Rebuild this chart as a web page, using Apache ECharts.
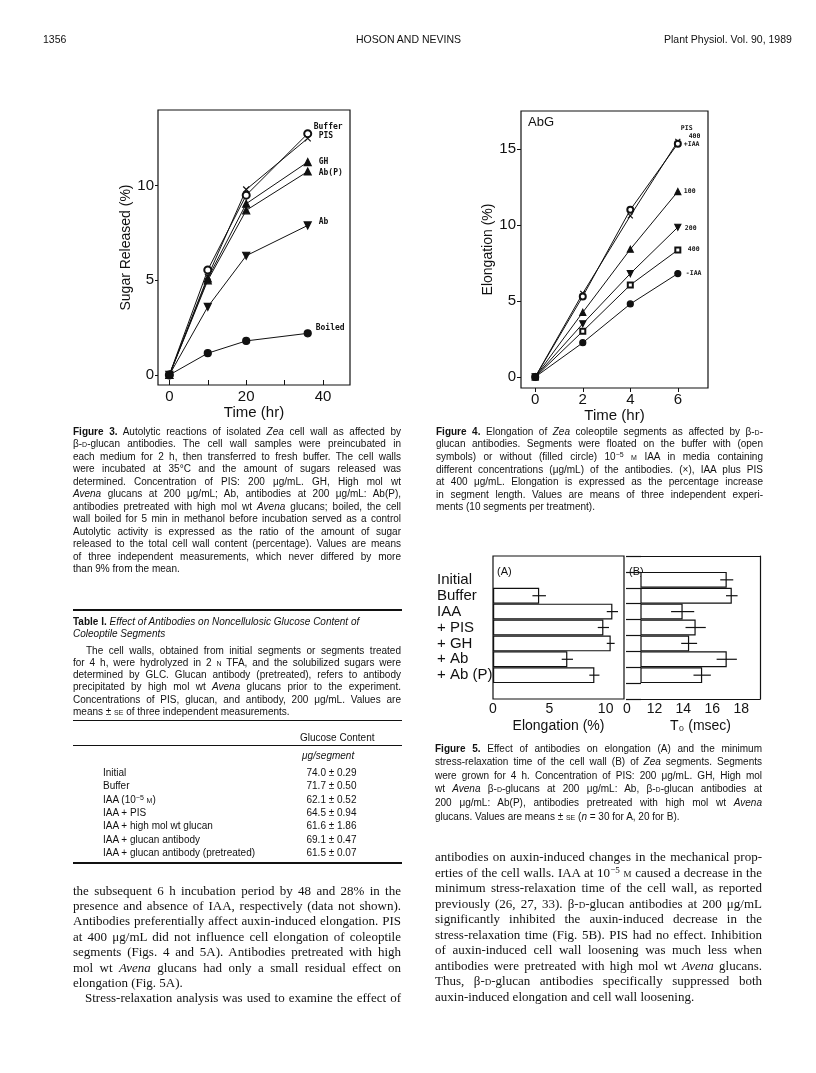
<!DOCTYPE html>
<html>
<head>
<meta charset="utf-8">
<script src="https://cdn.jsdelivr.net/npm/echarts@6.0.0/dist/echarts.min.js"></script>
<style>
  html, body { margin: 0; padding: 0; background: #fff; }
  body { width: 816px; height: 1073px; position: relative; overflow: hidden; }
  #main { position: absolute; left: 0; top: 0; width: 816px; height: 1073px; }
  .ln { position: absolute; white-space: nowrap; color: #111; z-index: 2; }
  .cap { font-family: "Liberation Sans", Arial, sans-serif; font-size: 10px; }
  .body { font-family: "Liberation Serif", "Times New Roman", serif; font-size: 13px; }
  .hd { position: absolute; font-family: "Liberation Sans", Arial, sans-serif; font-size: 10.5px; color: #111; z-index: 2; }
  .rule { position: absolute; left: 73px; width: 329px; background: #111; z-index: 2; }
  .sc { font-variant: small-caps; }
  sup { font-size: 0.7em; vertical-align: 0.45em; line-height: 0; }
</style>
</head>
<body>
<div id="main"></div>
<div class="hd" style="left:43px;top:33px;">1356</div>
<div class="hd" style="left:356px;top:33px;">HOSON AND NEVINS</div>
<div class="hd" style="left:664px;top:33px;">Plant Physiol. Vol. 90, 1989</div>
<div class="rule" style="top:609px;height:2px;"></div>
<div class="rule" style="top:719.5px;height:1px;"></div>
<div class="rule" style="top:744.5px;height:1.5px;"></div>
<div class="rule" style="top:862px;height:1.5px;"></div>
<script>
// Figure 3: sugar released (%) vs time (hr)
var fig3Time = [0, 10, 20, 36];
var fig3Buffer = [0, 5.55, 9.5, 12.75];
var fig3PIS = [0, 5.2, 9.8, 12.5];
var fig3GH = [0, 5.1, 9.05, 11.25];
var fig3AbP = [0, 5.0, 8.7, 10.75];
var fig3Ab = [0, 3.6, 6.3, 7.9];
var fig3Boiled = [0, 1.15, 1.8, 2.2];

// Figure 4: elongation (%) vs time (hr)
var fig4Time = [0, 2, 4, 6];
var fig4PIS = [0, 5.5, 10.6, 15.5];
var fig4IAA = [0, 5.3, 11.0, 15.35];
var fig4Ab100 = [0, 4.25, 8.4, 12.2];
var fig4Ab200 = [0, 3.5, 6.8, 9.85];
var fig4Ab400 = [0, 3.0, 6.05, 8.35];
var fig4NoIAA = [0, 2.25, 4.8, 6.8];

// Figure 5: treatments, elongation (A) and T0 (B), means and SE
var fig5Groups = ['Initial', 'Buffer', 'IAA', '+ PIS', '+ GH', '+ Ab', '+ Ab (P)'];
var fig5ElongMean = [null, 4.1, 10.6, 9.8, 10.45, 6.6, 9.0];
var fig5ElongSE = [null, 0.6, 0.5, 0.5, 0.35, 0.5, 0.45];
var fig5T0Mean = [17.0, 17.35, 13.95, 14.85, 14.4, 17.0, 15.3];
var fig5T0SE = [0.45, 0.4, 0.8, 0.7, 0.55, 0.7, 0.6];

var fig3Ticks = [0, 10, 20, 30, 40];
var fig3Labels = [0, 20, 40];
var fig3YLabels = [0, 5, 10];
var fig4XLabels = [0, 2, 4, 6];
var fig4YLabels = [0, 5, 10, 15];
var fig5ALabels = [0, 5, 10];
var fig5BLabels = [12, 14, 16, 18];

// padded category list: empty slot on top and bottom
var fig5Cats = [' '].concat(fig5Groups, ['  ']);
function pad(arr) { return ['-'].concat(arr.map(function (v) { return v == null ? '-' : v; }), ['-']); }
function errData(mean, se) {
  var out = [];
  mean.forEach(function (m, i) {
    if (m != null) out.push([m - se[i], m + se[i], i + 1]);
  });
  return out;
}
function zip(xs, ys) { return xs.map(function (x, i) { return [x, ys[i]]; }); }

var FONT = 'Liberation Sans';
var xMark = 'path://M0,0L10,10M10,0L0,10';

function lineSeries(ax, name, xs, ys, symbol, size, rotate, label, off, lblSize) {
  return {
    type: 'line', name: name, xAxisIndex: ax, yAxisIndex: ax,
    data: zip(xs, ys),
    symbol: symbol, symbolSize: size, symbolRotate: rotate || 0,
    lineStyle: { color: '#111', width: 1 },
    itemStyle: { color: '#111', borderColor: '#111', borderWidth: 1.2 },
    endLabel: {
      show: true, formatter: label, distance: 0, offset: off,
      fontFamily: 'DejaVu Sans Mono', fontWeight: 'bold', fontSize: lblSize, color: '#111',
      lineHeight: lblSize + 1
    },
    z: 3
  };
}

function errRender(params, api) {
  var lo = api.coord([api.value(0), api.value(2)]);
  var hi = api.coord([api.value(1), api.value(2)]);
  return {
    type: 'line',
    shape: { x1: lo[0], y1: lo[1], x2: hi[0], y2: hi[1] },
    style: { stroke: '#111', lineWidth: 1.2 }
  };
}

var axisTxt = { color: '#111', fontFamily: FONT };

var option = {
  animation: false,
  backgroundColor: '#fff',
  textStyle: { fontFamily: FONT, color: '#111' },
  grid: [
    { left: 158, top: 110, width: 192, height: 275, show: true, borderColor: '#111', borderWidth: 1.2, outerBoundsMode: 'none' },
    { left: 521, top: 111, width: 187, height: 277, show: true, borderColor: '#111', borderWidth: 1.2, outerBoundsMode: 'none' },
    { left: 493, top: 556, width: 131, height: 143, show: true, borderColor: '#111', borderWidth: 1.2, outerBoundsMode: 'none' },
    { left: 641, top: 556, width: 119, height: 143, show: false, outerBoundsMode: 'none' }
  ],
  xAxis: [
    {
      gridIndex: 0, type: 'value', min: -2.95, max: 47,
      axisLine: { show: false, onZero: false },
      axisTick: { inside: true, length: 5, customValues: fig3Ticks, lineStyle: { color: '#111' } },
      axisLabel: Object.assign({ customValues: fig3Labels, fontSize: 15, margin: 4 }, axisTxt),
      splitLine: { show: false },
      name: 'Time (hr)', nameLocation: 'middle', nameGap: 19,
      nameTextStyle: Object.assign({ fontSize: 15 }, axisTxt)
    },
    {
      gridIndex: 1, type: 'value', min: -0.6, max: 7.27,
      axisLine: { show: false, onZero: false },
      axisTick: { length: 4, customValues: fig4XLabels, lineStyle: { color: '#111' } },
      axisLabel: Object.assign({ customValues: fig4XLabels, fontSize: 15, margin: 4 }, axisTxt),
      splitLine: { show: false },
      name: 'Time (hr)', nameLocation: 'middle', nameGap: 17,
      nameTextStyle: Object.assign({ fontSize: 15 }, axisTxt)
    },
    {
      gridIndex: 2, type: 'value', min: 0, max: 11.63,
      axisLine: { show: false, onZero: false },
      axisTick: { show: false },
      axisLabel: Object.assign({ customValues: fig5ALabels, fontSize: 14, margin: 3 }, axisTxt),
      splitLine: { show: false },
      name: 'Elongation (%)', nameLocation: 'middle', nameGap: 20,
      nameTextStyle: Object.assign({ fontSize: 14 }, axisTxt)
    },
    {
      gridIndex: 3, type: 'value', min: 11.07, max: 19.3,
      axisLine: { show: true, onZero: false, lineStyle: { color: '#111', width: 1.2 } },
      axisTick: { inside: true, length: 5, customValues: fig5BLabels, lineStyle: { color: '#111' } },
      axisLabel: Object.assign({ customValues: fig5BLabels, fontSize: 14, margin: 3 }, axisTxt),
      splitLine: { show: false },
      name: 'T\u2080 (msec)', nameLocation: 'middle', nameGap: 20,
      nameTextStyle: Object.assign({ fontSize: 14 }, axisTxt)
    },
    {
      gridIndex: 3, type: 'value', position: 'top', min: 11.07, max: 19.3,
      axisLine: { show: true, onZero: false, lineStyle: { color: '#111', width: 1.2 } },
      axisTick: { show: false }, axisLabel: { show: false }, splitLine: { show: false }
    }
  ],
  yAxis: [
    {
      gridIndex: 0, type: 'value', min: -0.53, max: 14.0,
      axisLine: { show: false, onZero: false },
      axisTick: { length: 3, customValues: fig3YLabels, lineStyle: { color: '#111' } },
      axisLabel: Object.assign({ customValues: fig3YLabels, fontSize: 15, margin: 4 }, axisTxt),
      splitLine: { show: false },
      name: 'Sugar Released (%)', nameLocation: 'middle', nameGap: 21,
      nameTextStyle: Object.assign({ fontSize: 14 }, axisTxt)
    },
    {
      gridIndex: 1, type: 'value', min: -0.73, max: 17.5,
      axisLine: { show: false, onZero: false },
      axisTick: { length: 4, customValues: fig4YLabels, lineStyle: { color: '#111' } },
      axisLabel: Object.assign({ customValues: fig4YLabels, fontSize: 15, margin: 5 }, axisTxt),
      splitLine: { show: false },
      name: 'Elongation (%)', nameLocation: 'middle', nameGap: 18,
      nameTextStyle: Object.assign({ fontSize: 14 }, axisTxt)
    },
    {
      gridIndex: 2, type: 'category', data: fig5Cats, inverse: true,
      axisLine: { show: false, onZero: false },
      axisTick: { show: false },
      axisLabel: Object.assign({ fontSize: 15, margin: 56, align: 'left', interval: 0 }, axisTxt)
    },
    {
      gridIndex: 3, type: 'category', data: fig5Cats, inverse: true,
      axisLine: { show: false, onZero: false },
      axisTick: { show: true, length: 15, interval: 0, lineStyle: { color: '#111', width: 1.2 } },
      axisLabel: { show: false }
    },
    {
      gridIndex: 3, type: 'category', data: fig5Cats, inverse: true, position: 'right',
      axisLine: { show: true, onZero: false, lineStyle: { color: '#111', width: 1.2 } },
      axisTick: { show: false }, axisLabel: { show: false }
    }
  ],
  series: [
    lineSeries(0, 'Buffer', fig3Time, fig3Buffer, 'emptyCircle', 7, 0, 'Buffer', [6, -7], 8),
    lineSeries(0, 'PIS', fig3Time, fig3PIS, xMark, 6, 0, 'PIS', [11, -2], 8),
    lineSeries(0, 'GH', fig3Time, fig3GH, 'triangle', 7, 0, 'GH', [11, 0], 8),
    lineSeries(0, 'Ab(P)', fig3Time, fig3AbP, 'triangle', 7, 0, 'Ab(P)', [11, 1], 8),
    lineSeries(0, 'Ab', fig3Time, fig3Ab, 'triangle', 7, 180, 'Ab', [11, -4], 8),
    lineSeries(0, 'Boiled', fig3Time, fig3Boiled, 'circle', 7, 0, 'Boiled', [8, -5], 8),

    lineSeries(1, 'PIS 400', fig4Time, fig4PIS, xMark, 5, 0, 'PIS\n  400', [3, -9], 6.5),
    lineSeries(1, '+IAA', fig4Time, fig4IAA, 'emptyCircle', 6, 0, '+IAA', [6, 1], 6.5),
    lineSeries(1, '100', fig4Time, fig4Ab100, 'triangle', 6, 0, '100', [6, 0], 6.5),
    lineSeries(1, '200', fig4Time, fig4Ab200, 'triangle', 6, 180, '200', [7, 1], 6.5),
    lineSeries(1, '400', fig4Time, fig4Ab400, 'emptyRect', 5, 0, '400', [10, -1], 6.5),
    lineSeries(1, '-IAA', fig4Time, fig4NoIAA, 'circle', 6, 0, '-IAA', [8, 0], 6.5),

    {
      type: 'bar', xAxisIndex: 2, yAxisIndex: 2, data: pad(fig5ElongMean),
      barCategoryGap: '0%',
      itemStyle: { color: '#fff', borderColor: '#111', borderWidth: 1.2 }
    },
    {
      type: 'custom', xAxisIndex: 2, yAxisIndex: 2, renderItem: errRender,
      data: errData(fig5ElongMean, fig5ElongSE), encode: { x: [0, 1], y: 2 }, z: 5
    },
    {
      type: 'bar', xAxisIndex: 3, yAxisIndex: 3, data: pad(fig5T0Mean),
      barCategoryGap: '0%',
      itemStyle: { color: '#fff', borderColor: '#111', borderWidth: 1.2 }
    },
    {
      type: 'custom', xAxisIndex: 3, yAxisIndex: 3, renderItem: errRender,
      data: errData(fig5T0Mean, fig5T0SE), encode: { x: [0, 1], y: 2 }, z: 5
    }
  ],
  graphic: [
    { type: 'text', x: 528, y: 116, style: { text: 'AbG', font: '13px "Liberation Sans"', fill: '#111' } },
    { type: 'text', x: 497, y: 566, style: { text: '(A)', font: '11px "Liberation Sans"', fill: '#111' } },
    { type: 'text', x: 629, y: 566, style: { text: '(B)', font: '11px "Liberation Sans"', fill: '#111' } },
    { type: 'text', x: 627, y: 702, style: { text: '0', font: '14px "Liberation Sans"', fill: '#111', align: 'center' } }
  ]
};

var chart = echarts.init(document.getElementById('main'));
chart.setOption(option);

// ---- page text ----
var bD = '\u03b2-<span class="sc">d</span>';
var ug = '\u03bcg/mL';
var blocks = [
  { cls: 'cap', x: 73, w: 328, y: 431.7, dy: 12.5, lh: 12, lines: [
    '<b>Figure 3.</b> Autolytic reactions of isolated <i>Zea</i> cell wall as affected by',
    bD + '-glucan antibodies. The cell wall samples were preincubated in',
    'each medium for 2 h, then transferred to fresh buffer. The cell walls',
    'were incubated at 35\u00b0C and the amount of sugars released was',
    'determined. Concentration of PIS: 200 ' + ug + '. GH, High mol wt',
    '<i>Avena</i> glucans at 200 ' + ug + '; Ab, antibodies at 200 ' + ug + ': Ab(P),',
    'antibodies pretreated with high mol wt <i>Avena</i> glucans; boiled, the cell',
    'wall boiled for 5 min in methanol before incubation served as a control',
    'Autolytic activity is expressed as the ratio of the amount of sugar',
    'released to the total cell wall content (percentage). Values are means',
    'of three independent measurements, which never differed by more',
    '~than 9% from the mean.'
  ] },
  { cls: 'cap', x: 73, w: 328, y: 621.7, dy: 12.3, lh: 12, lines: [
    '~<b>Table I.</b> <i>Effect of Antibodies on Noncellulosic Glucose Content of</i>',
    '~<i>Coleoptile Segments</i>'
  ] },
  { cls: 'cap', x: 73, w: 328, y: 650.7, dy: 12.2, lh: 12, indent: 13, lines: [
    '>The cell walls, obtained from initial segments or segments treated',
    'for 4 h, were hydrolyzed in 2 <span class="sc">n</span> TFA, and the solubilized sugars were',
    'determined by GLC. Glucan antibody (pretreated), refers to antibody',
    'precipitated by high mol wt <i>Avena</i> glucans prior to the experiment.',
    'Concentrations of PIS, glucan, and antibody, 200 ' + ug + '. Values are',
    '~means \u00b1 <span class="sc">se</span> of three independent measurements.'
  ] },
  { cls: 'body', x: 73, w: 328, y: 890, dy: 15.4, lh: 15, indent: 12, lines: [
    'the subsequent 6 h incubation period by 48 and 28% in the',
    'presence and absence of IAA, respectively (data not shown).',
    'Antibodies preferentially affect auxin-induced elongation. PIS',
    'at 400 \u03bcg/mL did not influence cell elongation of coleoptile',
    'segments (Figs. 4 and 5A). Antibodies pretreated with high',
    'mol wt <i>Avena</i> glucans had only a small residual effect on',
    '~elongation (Fig. 5A).',
    '>Stress-relaxation analysis was used to examine the effect of'
  ] },
  { cls: 'cap', x: 436, w: 327, y: 431.7, dy: 12.6, lh: 12, lines: [
    '<b>Figure 4.</b> Elongation of <i>Zea</i> coleoptile segments as affected by ' + bD + '-',
    'glucan antibodies. Segments were floated on the buffer with (open',
    'symbols) or without (filled circle) 10<sup>\u22125</sup> <span class="sc">m</span> IAA in media containing',
    'different concentrations (\u03bcg/mL) of the antibodies. (\u00d7), IAA plus PIS',
    'at 400 ' + ug + '. Elongation is expressed as the percentage increase',
    'in segment length. Values are means of three independent experi-',
    '~ments (10 segments per treatment).'
  ] },
  { cls: 'cap', x: 435, w: 327, y: 748.5, dy: 13.6, lh: 12, lines: [
    '<b>Figure 5.</b> Effect of antibodies on elongation (A) and the minimum',
    'stress-relaxation time of the cell wall (B) of <i>Zea</i> segments. Segments',
    'were grown for 4 h. Concentration of PIS: 200 ' + ug + '. GH, High mol',
    'wt <i>Avena</i> ' + bD + '-glucans at 200 ' + ug + ': Ab, ' + bD + '-glucan antibodies at',
    '200 ' + ug + ': Ab(P), antibodies pretreated with high mol wt <i>Avena</i>',
    '~glucans. Values are means \u00b1 <span class="sc">se</span> (<i>n</i> = 30 for A, 20 for B).'
  ] },
  { cls: 'body', x: 435, w: 327, y: 856.7, dy: 15.48, lh: 15, lines: [
    'antibodies on auxin-induced changes in the mechanical prop-',
    'erties of the cell walls. IAA at 10<sup>\u22125</sup> <span class="sc">m</span> caused a decrease in the',
    'minimum stress-relaxation time of the cell wall, as reported',
    'previously (26, 27, 33). ' + bD + '-glucan antibodies at 200 \u03bcg/mL',
    'significantly inhibited the auxin-induced decrease in the',
    'stress-relaxation time (Fig. 5B). PIS had no effect. Inhibition',
    'of auxin-induced cell wall loosening was much less when',
    'antibodies were pretreated with high mol wt <i>Avena</i> glucans.',
    'Thus, ' + bD + '-glucan antibodies specifically suppressed both',
    '~auxin-induced elongation and cell wall loosening.'
  ] }
];

function placeBlock(b) {
  b.lines.forEach(function (t, i) {
    var last = t.charAt(0) === '~';
    if (last) t = t.slice(1);
    var ind = 0;
    if (t.charAt(0) === '>') { ind = b.indent; t = t.slice(1); }
    var d = document.createElement('div');
    d.className = 'ln ' + b.cls;
    d.style.left = (b.x + ind) + 'px';
    d.style.top = (b.y + i * b.dy - b.lh / 2) + 'px';
    d.style.lineHeight = b.lh + 'px';
    d.innerHTML = '<span>' + t + '</span>';
    document.body.appendChild(d);
    var span = d.firstChild;
    var w = b.w - ind;
    var nat = span.getBoundingClientRect().width;
    if (!last) {
      var spaces = (span.textContent.match(/ /g) || []).length;
      if (nat < w && spaces) span.style.wordSpacing = ((w - nat) / spaces) + 'px';
    }
    if (nat > w) {
      span.style.display = 'inline-block';
      span.style.transformOrigin = '0 0';
      span.style.transform = 'scaleX(' + (w / nat) + ')';
    }
  });
}
blocks.forEach(placeBlock);

// Table I rows
var tableRows = ['Initial', 'Buffer', 'IAA (10<sup>\u22125</sup> <span class="sc">m</span>)', 'IAA + PIS',
  'IAA + high mol wt glucan', 'IAA + glucan antibody', 'IAA + glucan antibody (pretreated)'];
var tableVals = ['74.0 \u00b1 0.29', '71.7 \u00b1 0.50', '62.1 \u00b1 0.52', '64.5 \u00b1 0.94',
  '61.6 \u00b1 1.86', '69.1 \u00b1 0.47', '61.5 \u00b1 0.07'];
function cell(x, y, html, extra) {
  var d = document.createElement('div');
  d.className = 'ln cap';
  d.style.left = x + 'px';
  d.style.top = (y - 6) + 'px';
  d.style.lineHeight = '12px';
  if (extra) d.style.fontStyle = extra;
  d.innerHTML = html;
  document.body.appendChild(d);
}
cell(300, 738.3, 'Glucose Content');
cell(302, 756, '\u03bcg/segment', 'italic');
tableRows.forEach(function (r, i) {
  cell(103, 772.7 + i * 13.43, r);
  cell(306.5, 772.7 + i * 13.43, tableVals[i]);
});
</script>
</body>
</html>
